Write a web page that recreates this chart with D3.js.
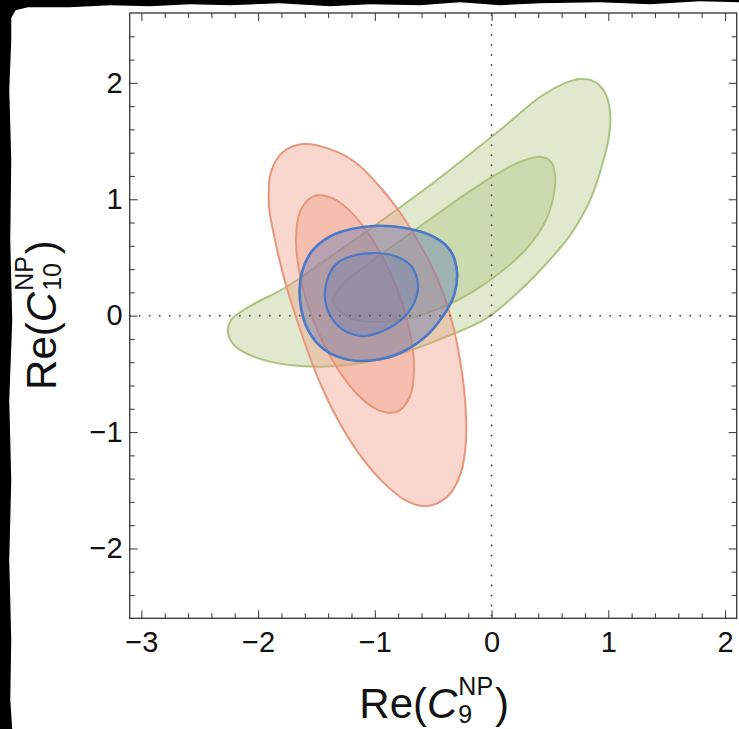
<!DOCTYPE html>
<html>
<head>
<meta charset="utf-8">
<script src="https://cdn.jsdelivr.net/npm/d3@7"></script>
<style>
  html, body { margin: 0; padding: 0; background: #000; }
  svg { display: block; }
</style>
</head>
<body>
<svg id="chart" width="739" height="729"></svg>
<script>
// Axis ranges and tick labels
const xDomain = [-3.1, 2.1];
const yDomain = [-2.6, 2.6];
const xTicks = [-3, -2, -1, 0, 1, 2];
const yTicks = [-2, -1, 0, 1, 2];

// Confidence contours in the (Re C9, Re C10) plane, [x, y] pairs
const greenOuter = [
  [-2.258,-0.149],[-2.232,-0.038],[-2.069,0.082],[-1.787,0.229],[-1.470,0.443],
  [-1.067,0.726],[-0.501,1.139],[0.073,1.595],[0.416,1.878],[0.630,1.998],
  [0.758,2.033],[0.887,2.007],[0.973,1.912],[1.015,1.749],[1.007,1.552],
  [0.947,1.294],[0.844,0.993],[0.673,0.692],[0.458,0.435],[0.201,0.177],
  [-0.056,-0.029],[-0.441,-0.201],[-0.870,-0.356],[-1.341,-0.433],[-1.727,-0.424],
  [-2.027,-0.356],[-2.198,-0.261]
];
const greenInner = [
  [-1.358,0.117],[-1.298,0.246],[-1.127,0.392],[-0.895,0.564],[-0.501,0.847],
  [-0.184,1.070],[0.073,1.234],[0.287,1.337],[0.433,1.363],[0.510,1.320],
  [0.544,1.199],[0.527,1.010],[0.458,0.804],[0.304,0.581],[0.090,0.383],
  [-0.167,0.203],[-0.441,0.065],[-0.741,-0.029],[-0.998,-0.055],[-1.212,-0.021]
];
const redOuter = [
  [-1.615,1.474],[-1.384,1.431],[-1.170,1.320],[-0.955,1.105],[-0.758,0.847],
  [-0.587,0.564],[-0.441,0.263],[-0.338,-0.055],[-0.270,-0.381],[-0.227,-0.725],
  [-0.219,-1.069],[-0.261,-1.344],[-0.373,-1.550],[-0.553,-1.636],[-0.741,-1.584],
  [-0.930,-1.430],[-1.127,-1.198],[-1.315,-0.897],[-1.487,-0.536],[-1.632,-0.141],
  [-1.761,0.263],[-1.855,0.649],[-1.907,0.950],[-1.889,1.234],[-1.787,1.405]
];
const redInner = [
  [-0.664,-0.456],[-0.703,-0.703],[-0.812,-0.826],[-0.976,-0.809],[-1.170,-0.654],
  [-1.363,-0.383],[-1.527,-0.040],[-1.637,0.325],[-1.675,0.655],[-1.637,0.902],
  [-1.527,1.025],[-1.363,1.009],[-1.170,0.853],[-0.976,0.582],[-0.812,0.240],
  [-0.703,-0.125]
];
const blueOuter = [
  [-1.015,0.770],[-0.741,0.753],[-0.510,0.684],[-0.356,0.564],[-0.296,0.375],
  [-0.321,0.177],[-0.416,-0.003],[-0.570,-0.184],[-0.784,-0.321],[-0.998,-0.381],
  [-1.212,-0.381],[-1.426,-0.296],[-1.572,-0.124],[-1.641,0.134],[-1.624,0.375],
  [-1.530,0.564],[-1.341,0.701]
];
const blueInner = [
  [-1.015,0.538],[-0.827,0.512],[-0.690,0.426],[-0.630,0.263],[-0.664,0.108],
  [-0.758,-0.021],[-0.913,-0.124],[-1.084,-0.175],[-1.238,-0.141],[-1.358,-0.038],
  [-1.426,0.134],[-1.409,0.306],[-1.332,0.443],[-1.195,0.512]
];

(function draw() {
  const svg = d3.select("#chart");
  const W = 739, H = 729;

  // Page: black surround with a slightly ragged white sheet
  const sheetEdge = [
    [12,18],[16,11],[28,8],[70,8],[110,6],[150,7],[190,5],[230,6],[280,4],[330,7],
    [370,5],[420,6],[460,3],[500,6],[540,4],[600,3],[650,5],[700,2],[739,3],
    [739,729],[13,729],[11,700],[12,640],[10,560],[12,480],[10,400],[13,320],
    [11,240],[12,160],[10,90],[12,40]
  ];
  svg.append("rect").attr("width", W).attr("height", H).attr("fill", "#000");
  svg.append("path")
    .attr("d", d3.line().curve(d3.curveLinearClosed)(sheetEdge))
    .attr("fill", "#fff").attr("stroke", "#fff").attr("stroke-width", 1.5).attr("stroke-linejoin", "round");

  const pLeft = 129.7, pRight = 736.7, pTop = 13, pBottom = 618.3;
  const x = d3.scaleLinear().domain(xDomain).range([pLeft, pRight]);
  const y = d3.scaleLinear().domain(yDomain).range([pBottom, pTop]);

  const clip = svg.append("clipPath").attr("id", "plotClip");
  clip.append("rect").attr("x", pLeft).attr("y", pTop)
    .attr("width", pRight - pLeft).attr("height", pBottom - pTop);

  const contour = d3.line()
    .x(d => x(d[0])).y(d => y(d[1]))
    .curve(d3.curveCatmullRomClosed.alpha(0.5));

  const regions = svg.append("g").attr("clip-path", "url(#plotClip)");
  const layers = [
    { pts: greenOuter, fill: "rgb(172,196,122)", op: 0.37, stroke: "#abc37e", sw: 2 },
    { pts: greenInner, fill: "rgb(172,196,122)", op: 0.37, stroke: "#abc37e", sw: 2 },
    { pts: redOuter,   fill: "rgb(240,150,125)", op: 0.38, stroke: "#e8967b", sw: 2 },
    { pts: redInner,   fill: "rgb(240,150,125)", op: 0.38, stroke: "#e8967b", sw: 2 },
    { pts: blueOuter,  fill: "rgb(84,112,182)",  op: 0.38, stroke: "#4c78c8", sw: 2.7 },
    { pts: blueInner,  fill: "rgb(84,112,182)",  op: 0.26, stroke: "#4c78c8", sw: 2.2 }
  ];
  layers.forEach(l => {
    regions.append("path")
      .attr("d", contour(l.pts))
      .attr("fill", l.fill)
      .attr("fill-opacity", l.op)
      .attr("stroke", l.stroke)
      .attr("stroke-width", l.sw)
      .attr("stroke-linejoin", "round");
  });

  // Dotted reference lines at zero
  const zeroLines = svg.append("g")
    .attr("stroke", "#5c5c5c").attr("stroke-width", 2)
    .attr("stroke-dasharray", "0.01,10").attr("stroke-linecap", "round");
  zeroLines.append("line").attr("x1", x(0)).attr("x2", x(0)).attr("y1", pTop + 2).attr("y2", pBottom);
  zeroLines.append("line").attr("x1", pLeft).attr("x2", pRight).attr("y1", y(0)).attr("y2", y(0));

  // Frame with inward ticks on all four sides
  const minorX = d3.range(-30, 21, 2).map(v => v / 10)
    .filter(v => Math.abs(v - Math.round(v)) > 1e-6);
  const minorY = d3.range(-26, 27, 2).map(v => v / 10)
    .filter(v => Math.abs(v - Math.round(v)) > 1e-6 && Math.abs(v) < 2.55);
  const fmt = v => v < 0 ? "\u2212" + Math.abs(v) : String(v);

  function styleAxis(g) {
    g.select(".domain").remove();
    g.selectAll(".tick line").attr("stroke", "#444").attr("stroke-width", 1.1);
    g.selectAll("text").attr("font-family", "'Liberation Sans', Arial, sans-serif")
      .attr("font-size", 29).attr("fill", "#111");
  }

  const axes = svg.append("g");
  axes.append("g").attr("transform", `translate(0,${pBottom})`)
    .call(d3.axisBottom(x).tickValues(xTicks).tickSize(-8).tickPadding(13).tickFormat(fmt)).call(styleAxis);
  axes.append("g").attr("transform", `translate(0,${pBottom})`)
    .call(d3.axisBottom(x).tickValues(minorX).tickSize(-5).tickFormat("")).call(styleAxis);
  axes.append("g").attr("transform", `translate(0,${pTop})`)
    .call(d3.axisTop(x).tickValues(xTicks).tickSize(-8).tickFormat("")).call(styleAxis);
  axes.append("g").attr("transform", `translate(0,${pTop})`)
    .call(d3.axisTop(x).tickValues(minorX).tickSize(-5).tickFormat("")).call(styleAxis);
  axes.append("g").attr("transform", `translate(${pLeft},0)`)
    .call(d3.axisLeft(y).tickValues(yTicks).tickSize(-8).tickPadding(7).tickFormat(fmt)).call(styleAxis);
  axes.append("g").attr("transform", `translate(${pLeft},0)`)
    .call(d3.axisLeft(y).tickValues(minorY).tickSize(-5).tickFormat("")).call(styleAxis);
  axes.append("g").attr("transform", `translate(${pRight},0)`)
    .call(d3.axisRight(y).tickValues(yTicks).tickSize(-8).tickFormat("")).call(styleAxis);
  axes.append("g").attr("transform", `translate(${pRight},0)`)
    .call(d3.axisRight(y).tickValues(minorY).tickSize(-5).tickFormat("")).call(styleAxis);

  axes.append("rect")
    .attr("x", pLeft).attr("y", pTop).attr("width", pRight - pLeft).attr("height", pBottom - pTop)
    .attr("fill", "none").attr("stroke", "#333").attr("stroke-width", 1.3);

  // Axis titles: Re(C with stacked sub/superscript
  function axisTitle(g, sub) {
    const ff = "'Liberation Sans', Arial, sans-serif";
    const main = g.append("text").attr("font-family", ff).attr("font-size", 42).attr("fill", "#111");
    main.append("tspan").text("Re(");
    main.append("tspan").attr("font-style", "italic").text("C");
    const w = main.node().getComputedTextLength();
    const sup = g.append("text").attr("font-family", ff).attr("font-size", 25).attr("fill", "#111")
      .attr("x", w + 1).attr("y", -23).text("NP");
    const sb = g.append("text").attr("font-family", ff).attr("font-size", 25).attr("fill", "#111")
      .attr("x", w + 1).attr("y", 5).text(sub);
    const w2 = Math.max(sup.node().getComputedTextLength(), sb.node().getComputedTextLength());
    const close = g.append("text").attr("font-family", ff).attr("font-size", 42).attr("fill", "#111")
      .attr("x", w + w2 + 3).text(")");
    const total = w + w2 + 3 + close.node().getComputedTextLength();
    g.selectAll("text").attr("dx", -total / 2);
  }

  const xt = svg.append("g").attr("transform", `translate(${(pLeft + pRight) / 2 + 1},718)`);
  axisTitle(xt, "9");
  const yt = svg.append("g").attr("transform", `translate(56,315) rotate(-90)`);
  axisTitle(yt, "10");
})();
</script>
</body>
</html>
